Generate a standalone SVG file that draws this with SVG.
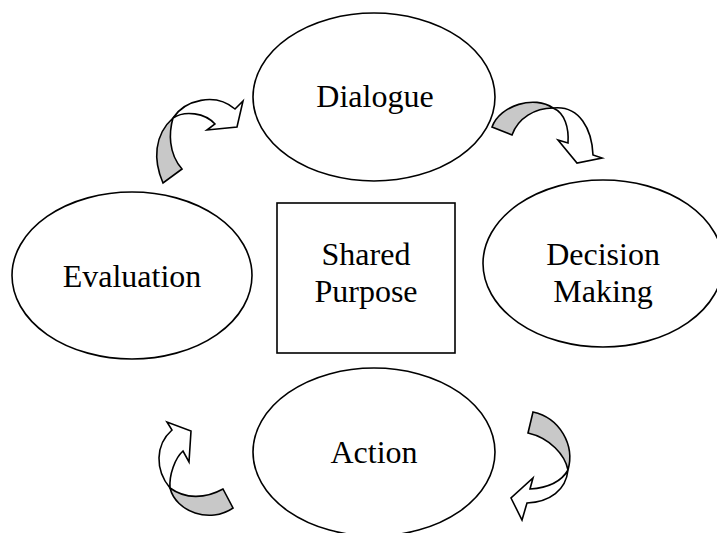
<svg xmlns="http://www.w3.org/2000/svg" width="717" height="533" viewBox="0 0 717 533">
<style>
.shape{fill:#ffffff;stroke:#000000;stroke-width:1.6}
.lbl{font-family:"Liberation Serif","Times New Roman",serif;font-size:32px;fill:#000000;text-anchor:middle}
.back{fill:#c8c8c8;stroke:#000000;stroke-width:1.6;stroke-linejoin:miter}
.front{fill:#ffffff;stroke:#000000;stroke-width:1.6;stroke-linejoin:miter}
</style>
<rect width="717" height="533" fill="#ffffff"/>
<g id="node-dialogue">
<ellipse class="shape" cx="374" cy="97" rx="121" ry="84"/>
<text class="lbl" x="375" y="107">Dialogue</text>
</g>
<g id="node-decision">
<ellipse class="shape" cx="603" cy="263.5" rx="120" ry="83.5"/>
<text class="lbl" x="603" y="265">Decision</text>
<text class="lbl" x="603" y="302">Making</text>
</g>
<g id="node-evaluation">
<ellipse class="shape" cx="132" cy="275.5" rx="120" ry="83.5"/>
<text class="lbl" x="132" y="287">Evaluation</text>
</g>
<g id="node-action">
<ellipse class="shape" cx="374" cy="452" rx="121" ry="84"/>
<text class="lbl" x="374" y="463">Action</text>
</g>
<g id="node-purpose">
<rect class="shape" x="277" y="203" width="178" height="150"/>
<text class="lbl" x="366" y="265">Shared</text>
<text class="lbl" x="366" y="302">Purpose</text>
</g>
<g id="connectors">
<g id="arrow-evaluation-dialogue">
<path class="back" d="M163,183 C153,160 154,135 173,118 C169,132 168,153 182,169 Z"/>
<path class="front" d="M173,118 C185,100 215,92 235,109 L243,101 L237,127 L207,130 L215,124 C205,113 185,110 173,118 Z"/>
</g>
<g id="arrow-dialogue-decision">
<path class="back" d="M492,127 C500,105 535,95 553,108 C535,108 518,118 512,135 Z"/>
<path class="front" d="M553,108 C580,105 592,130 593,155 L602,158 L577,163 L558,140 L568,143 C569,128 565,113 553,108 Z"/>
</g>
<g id="arrow-decision-action">
<path class="back" d="M533,412 C560,418 575,445 568,470 C565,455 550,438 528,433 Z"/>
<path class="front" d="M568,470 C566,490 550,502 527,503 L522,520 L511,498 L533,478 L530,489 C545,488 560,484 568,470 Z"/>
</g>
<g id="arrow-action-evaluation">
<path class="back" d="M223,489 C205,499 185,499 170,488 C176,512 210,524 233,508 Z"/>
<path class="front" d="M170,488 C155,470 155,445 172,430 L167,422 L191,431 L189,462 L183,451 C175,458 169,475 170,488 Z"/>
</g>
</g>
</svg>
